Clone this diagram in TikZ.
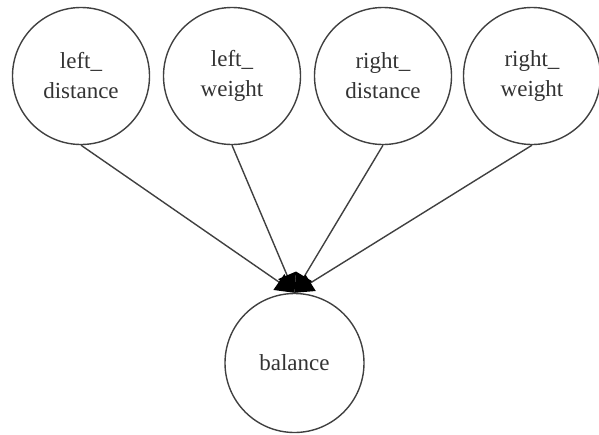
\documentclass[tikz,border=0pt]{standalone}
\usepackage{fontspec}
\setmainfont{Liberation Serif}
\usetikzlibrary{arrows.meta}
\definecolor{myline}{rgb}{0.25,0.25,0.25}

\begin{document}
\begin{tikzpicture}[x=0.5pt,y=-0.5pt,
    varnode/.style={circle,draw=myline,line width=0.7pt,minimum size=68.5pt,inner sep=0pt,
      align=center,font=\fontsize{11.5}{15}\selectfont,text=black!80},
    infl/.style={draw=myline,line width=0.7pt,
      -{Triangle[length=9.5pt,width=9.5pt,fill=black,color=black]}}]
  \useasboundingbox (0,0) rectangle (599,434);
  \def\ty{76}
  % the four parent variables
  \node[varnode] (ld) at (81,\ty)  {left\_\\distance};
  \node[varnode] (lw) at (232,\ty) {left\_\\weight};
  \node[varnode] (rd) at (383,\ty) {right\_\\distance};
  \node[varnode] (rw) at (532,\ty) {right\_\\weight};
  % the child variable
  \node[varnode,minimum size=69.5pt] (bal) at (294.5,363) {balance};
  % influences, all meeting on top of the child
  \draw[infl] (ld.south) -- (bal.north);
  \draw[infl] (lw.south) -- (bal.north);
  \draw[infl] (rd.south) -- (bal.north);
  \draw[infl] (rw.south) -- (bal.north);
\end{tikzpicture}
\end{document}
